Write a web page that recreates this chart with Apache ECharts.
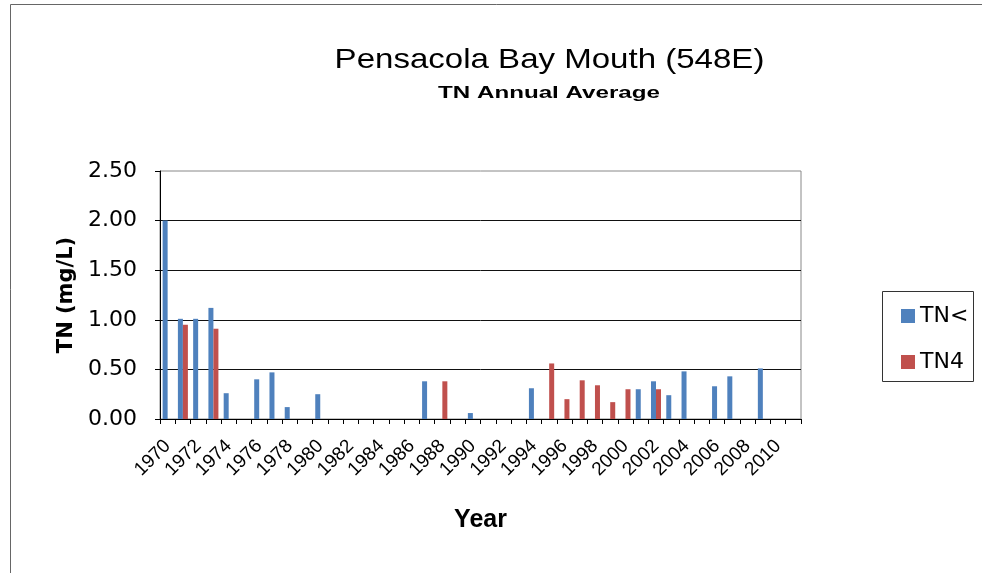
<!DOCTYPE html>
<html>
<head>
<meta charset="utf-8">
<script src="https://cdn.jsdelivr.net/npm/echarts@6/dist/echarts.min.js"></script>
<style>html,body{margin:0;padding:0;background:#fff;}#c{width:982px;height:573px;}</style>
</head>
<body>
<div id="c"></div>
<script>
var years = ['1970','1971','1972','1973','1974','1975','1976','1977','1978','1979',
  '1980','1981','1982','1983','1984','1985','1986','1987','1988','1989',
  '1990','1991','1992','1993','1994','1995','1996','1997','1998','1999',
  '2000','2001','2002','2003','2004','2005','2006','2007','2008','2009',
  '2010','2011'];
var tnLess = [2.00,1.01,1.01,1.12,0.26,null,0.40,0.47,0.12,null,
  0.25,null,null,null,null,null,null,0.38,null,null,
  0.06,null,null,null,0.31,null,null,null,null,null,
  null,0.30,0.38,0.24,0.48,null,0.33,0.43,null,0.51,
  null,null];
var tn4 = [null,0.95,null,0.91,null,null,null,null,null,null,
  null,null,null,null,null,null,null,null,0.38,null,
  null,null,null,null,null,0.56,0.20,0.39,0.34,0.17,
  0.30,null,0.30,null,null,null,null,null,null,null,
  null,null];
var seriesNames = ['TN<', 'TN4'];
var titleText = 'Pensacola Bay Mouth (548E)';
var subtitleText = 'TN Annual Average';

var chart = echarts.init(document.getElementById('c'), null, {renderer:'canvas'});
var F = 'Liberation Sans, Arial, sans-serif';
var FW = 'DejaVu Sans, Liberation Sans, sans-serif';
chart.setOption({
  animation: false,
  textStyle: {fontFamily: F},
  graphic: [
    {type: 'rect', shape: {x: 10.5, y: 4.5, width: 1000, height: 700},
     style: {fill: 'none', stroke: '#666', lineWidth: 1}, silent: true},
    {type: 'rect', shape: {x: 882.5, y: 291.5, width: 91, height: 90},
     style: {fill: 'none', stroke: '#333', lineWidth: 1}, silent: true},
    {type: 'text', x: 549.5, y: 60, scaleX: 1.18, silent: true,
     style: {text: titleText, font: '28px Liberation Sans, Arial, sans-serif',
       fill: '#000', align: 'center', verticalAlign: 'middle'}},
    {type: 'text', x: 549, y: 93, scaleX: 1.42, silent: true,
     style: {text: subtitleText, font: 'bold 17px Liberation Sans, Arial, sans-serif',
       fill: '#000', align: 'center', verticalAlign: 'middle'}}
  ],
  legend: {
    orient: 'vertical', left: 896, top: 300, itemGap: 24,
    itemWidth: 14, itemHeight: 14, icon: 'rect',
    textStyle: {fontFamily: FW, fontSize: 22, color: '#000'},
    data: seriesNames
  },
  grid: {left: 160, top: 171, width: 641, height: 248, show: true,
    borderColor: '#888', borderWidth: 1, containLabel: false},
  xAxis: {
    type: 'category', data: years,
    name: 'Year', nameLocation: 'middle', nameGap: 89,
    nameTextStyle: {fontFamily: F, fontSize: 25, fontWeight: 'bold', color: '#000'},
    axisLine: {lineStyle: {color: '#000', width: 1}},
    axisTick: {show: true, interval: 0, length: 5, lineStyle: {color: '#000'}},
    axisLabel: {interval: 1, rotate: 45, fontSize: 19, color: '#000', margin: 24, fontFamily: F},
    splitLine: {show: false}
  },
  yAxis: {
    type: 'value', min: 0, max: 2.5, interval: 0.5,
    name: 'TN (mg/L)', nameLocation: 'middle', nameGap: 83,
    nameTextStyle: {fontFamily: FW, fontSize: 21, fontWeight: 'bold', color: '#000'},
    axisLine: {show: true, lineStyle: {color: '#000', width: 1}},
    axisTick: {show: true, length: 5, lineStyle: {color: '#000'}},
    axisLabel: {fontSize: 22, color: '#000', margin: 23, fontFamily: FW,
      formatter: function(v){ return v.toFixed(2); }},
    splitLine: {show: true, showMaxLine: false, lineStyle: {color: '#111', width: 1}}
  },
  series: [
    {name: seriesNames[0], type: 'bar', data: tnLess, barWidth: 5, barGap: '0%',
     itemStyle: {color: '#4F81BD'}},
    {name: seriesNames[1], type: 'bar', data: tn4, barWidth: 5, barGap: '0%',
     itemStyle: {color: '#C0504D'}}
  ]
});
</script>
</body>
</html>
